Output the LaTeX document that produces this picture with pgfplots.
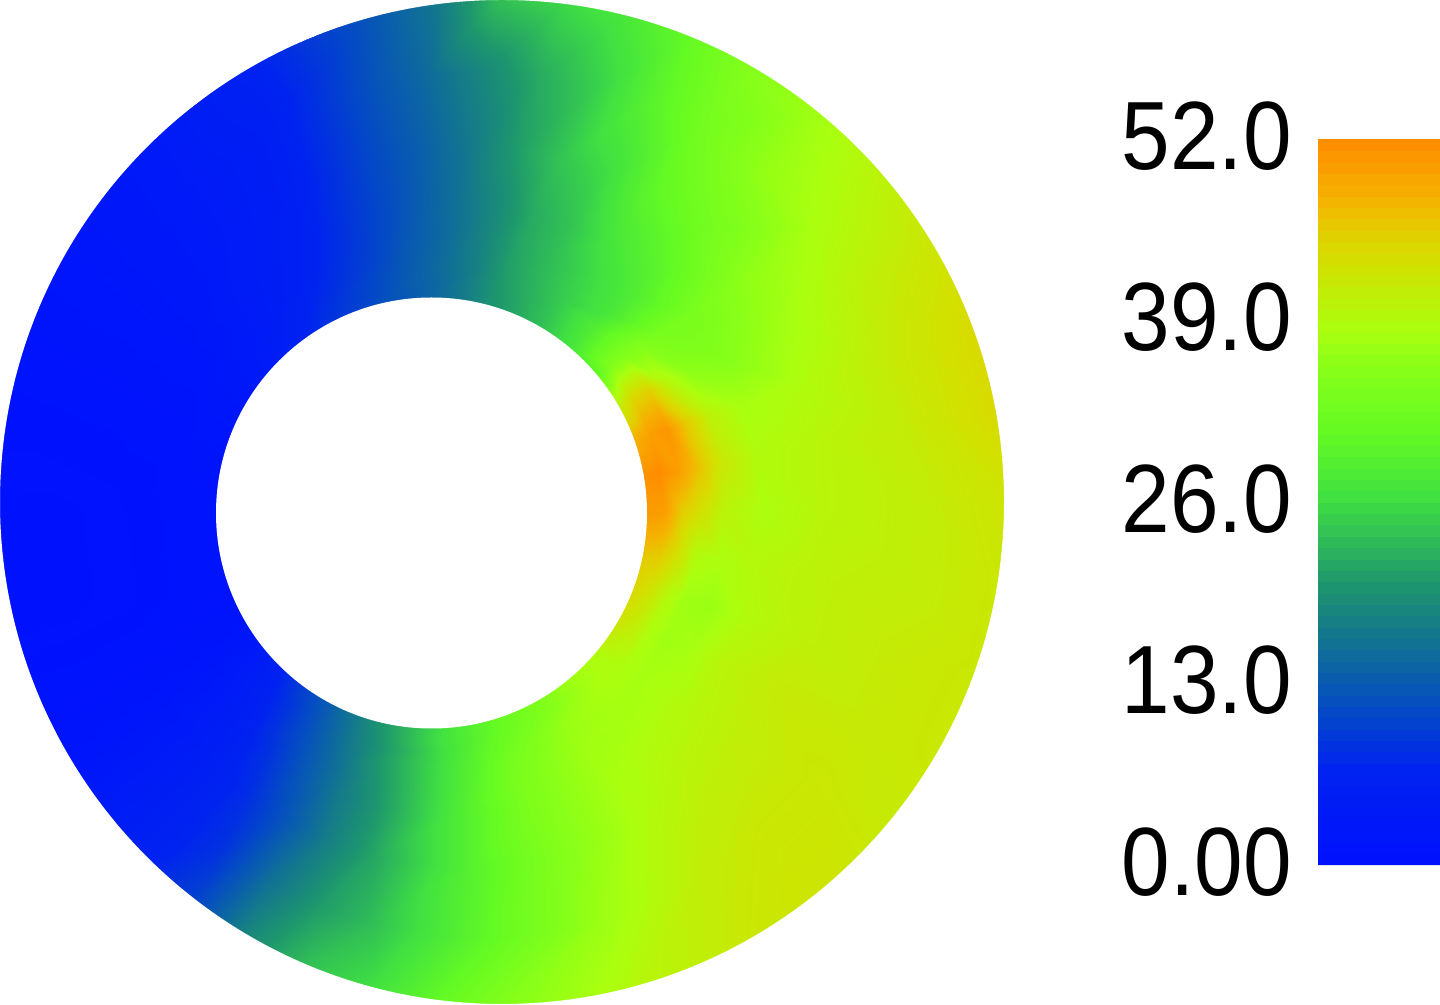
\documentclass[border=0pt]{standalone}
\usepackage{fontspec}
\setmainfont{Liberation Sans}
\usepackage{pgfplots}
\pgfplotsset{compat=1.18}
\newcommand{\lbl}[1]{\scalebox{0.90}[1]{\fontsize{97}{97}\selectfont #1}}
\begin{document}
\begin{tikzpicture}[x=1pt,y=1pt]
\useasboundingbox (0,0) rectangle (1440,1004);
\begin{axis}[
  at={(0,0)},anchor=south west,
  scale only axis,width=1004pt,height=1004pt,
  xmin=0,xmax=1004,ymin=0,ymax=1004,
  hide axis,
  point meta min=0,point meta max=52,
  colormap={fem}{rgb255(0)=(0,16,255) rgb255(70)=(0,35,240) rgb255(118)=(5,80,190)
    rgb255(166)=(20,120,140) rgb255(202)=(30,150,110) rgb255(264)=(65,225,65)
    rgb255(310)=(100,250,35) rgb255(355)=(135,255,25) rgb255(383)=(170,255,15)
    rgb255(430)=(210,225,0) rgb255(455)=(228,205,0) rgb255(478)=(245,178,0) rgb255(520)=(255,140,0)},
  colorbar sampled,
  colorbar style={
    samples=65,
    scale only axis,
    at={(1.31275,0.13845)},anchor=south west,
    width=122pt,height=726pt,
    axis line style={draw=none},
    tick style={draw=none},
    major tick length=0pt,
    yticklabel pos=left,
    ytick={0,13,26,39,52},
    yticklabels={\lbl{0.00},\lbl{13.0},\lbl{26.0},\lbl{39.0},\lbl{52.0}},
    yticklabel style={inner sep=0pt,xshift=-26pt,yshift=3pt,anchor=east},
  },
]
\addplot[surf,shader=interp,mesh/rows=34,mesh/cols=9,point meta=explicit]
table[row sep=\\,
  x expr={(1-\thisrow{s})*(431.5+214*cos(\thisrow{t}))+\thisrow{s}*(502+507*cos(\thisrow{t}))},
  y expr={(1-\thisrow{s})*(491+214*sin(\thisrow{t}))+\thisrow{s}*(502+507*sin(\thisrow{t}))},
  meta=v]{
t s v\\
-180 0 1\\ -180 .05 1\\ -180 .1 1\\ -180 .15 1\\ -180 .22 1\\ -180 .32 .8\\ -180 .5 .6\\ -180 .75 .5\\ -180 1 .5\\
-165 0 1\\ -165 .05 1\\ -165 .1 1\\ -165 .15 1\\ -165 .22 1\\ -165 .32 .8\\ -165 .5 .6\\ -165 .75 .5\\ -165 1 .5\\
-150 0 1.5\\ -150 .05 1.5\\ -150 .1 1.5\\ -150 .15 1.5\\ -150 .22 1.5\\ -150 .32 1.5\\ -150 .5 1.5\\ -150 .75 1.5\\ -150 1 1.5\\
-135 0 6\\ -135 .05 6\\ -135 .1 6\\ -135 .15 6\\ -135 .22 5.5\\ -135 .32 5.5\\ -135 .5 5.5\\ -135 .75 6\\ -135 1 6.5\\
-127.5 0 9.5\\ -127.5 .05 9.5\\ -127.5 .1 9\\ -127.5 .15 9\\ -127.5 .22 9\\ -127.5 .32 8.5\\ -127.5 .5 8\\ -127.5 .75 8.5\\ -127.5 1 10.5\\
-120 0 12.5\\ -120 .05 12.5\\ -120 .1 12.5\\ -120 .15 12.5\\ -120 .22 12.5\\ -120 .32 12.5\\ -120 .5 12.5\\ -120 .75 15.5\\ -120 1 19\\
-112.5 0 16\\ -112.5 .05 16\\ -112.5 .1 16\\ -112.5 .15 16\\ -112.5 .22 16\\ -112.5 .32 16.5\\ -112.5 .5 17.5\\ -112.5 .75 20.5\\ -112.5 1 24\\
-105 0 19.5\\ -105 .05 19.5\\ -105 .1 19.5\\ -105 .15 20\\ -105 .22 20\\ -105 .32 20\\ -105 .5 21.5\\ -105 .75 23.5\\ -105 1 26.5\\
-90 0 25.5\\ -90 .05 26\\ -90 .1 26\\ -90 .15 26.5\\ -90 .22 27\\ -90 .32 28\\ -90 .5 29\\ -90 .75 30.5\\ -90 1 35\\
-75 0 30.5\\ -75 .05 31\\ -75 .1 32\\ -75 .15 33\\ -75 .22 34\\ -75 .32 34.5\\ -75 .5 35\\ -75 .75 37\\ -75 1 39.5\\
-60 0 34.5\\ -60 .05 35\\ -60 .1 36.5\\ -60 .15 37\\ -60 .22 37.5\\ -60 .32 38\\ -60 .5 39\\ -60 .75 41\\ -60 1 42\\
-50 0 37.5\\ -50 .05 37.5\\ -50 .1 38\\ -50 .15 38\\ -50 .22 38\\ -50 .32 39\\ -50 .5 40.5\\ -50 .75 42\\ -50 1 42.5\\
-40 0 39\\ -40 .05 39\\ -40 .1 38.5\\ -40 .15 38\\ -40 .22 38.5\\ -40 .32 39.5\\ -40 .5 41\\ -40 .75 42\\ -40 1 41.5\\
-30 0 42.5\\ -30 .05 41\\ -30 .1 38.5\\ -30 .15 37.5\\ -30 .22 38\\ -30 .32 40\\ -30 .5 41.5\\ -30 .75 41.5\\ -30 1 42\\
-20 0 44.5\\ -20 .05 42.5\\ -20 .1 39.5\\ -20 .15 37.5\\ -20 .22 37\\ -20 .32 39\\ -20 .5 40.5\\ -20 .75 41.5\\ -20 1 42\\
-10 0 46.5\\ -10 .05 46\\ -10 .1 43\\ -10 .15 39\\ -10 .22 38.5\\ -10 .32 39.5\\ -10 .5 40.5\\ -10 .75 41\\ -10 1 42\\
0 0 50.5\\ 0 .05 50\\ 0 .1 45.5\\ 0 .15 43\\ 0 .22 40\\ 0 .32 38.5\\ 0 .5 40\\ 0 .75 41\\ 0 1 42.5\\
10 0 51.5\\ 10 .05 52\\ 10 .1 50\\ 10 .15 47\\ 10 .22 42\\ 10 .32 39\\ 10 .5 40\\ 10 .75 41.5\\ 10 1 44\\
20 0 48\\ 20 .05 50\\ 20 .1 51\\ 20 .15 46\\ 20 .22 40.5\\ 20 .32 38\\ 20 .5 39\\ 20 .75 41.5\\ 20 1 44\\
30 0 40.5\\ 30 .05 44.5\\ 30 .1 45\\ 30 .15 40\\ 30 .22 36\\ 30 .32 35\\ 30 .5 37.5\\ 30 .75 40.5\\ 30 1 42.5\\
40 0 30\\ 40 .05 34.5\\ 40 .1 35\\ 40 .15 35\\ 40 .22 33.5\\ 40 .32 33.5\\ 40 .5 36\\ 40 .75 38.5\\ 40 1 40.5\\
50 0 27\\ 50 .05 28\\ 50 .1 28.5\\ 50 .15 27.5\\ 50 .22 28\\ 50 .32 29.5\\ 50 .5 32.5\\ 50 .75 36.5\\ 50 1 38\\
60 0 23.5\\ 60 .05 24\\ 60 .1 24.5\\ 60 .15 25\\ 60 .22 25.5\\ 60 .32 27\\ 60 .5 30\\ 60 .75 33\\ 60 1 35.5\\
67.5 0 21.5\\ 67.5 .05 22\\ 67.5 .1 22.5\\ 67.5 .15 23\\ 67.5 .22 23.5\\ 67.5 .32 24\\ 67.5 .5 26\\ 67.5 .75 29.5\\ 67.5 1 31.5\\
75 0 19.5\\ 75 .05 20\\ 75 .1 20.5\\ 75 .15 21\\ 75 .22 21.5\\ 75 .32 22\\ 75 .5 24\\ 75 .75 25\\ 75 1 28\\
82.5 0 16.5\\ 82.5 .05 17\\ 82.5 .1 17\\ 82.5 .15 17.5\\ 82.5 .22 18\\ 82.5 .32 18.5\\ 82.5 .5 20.5\\ 82.5 .75 22\\ 82.5 1 26\\
90 0 14.5\\ 90 .05 14.5\\ 90 .1 15\\ 90 .15 15\\ 90 .22 15\\ 90 .32 15.5\\ 90 .5 16.5\\ 90 .75 18.5\\ 90 1 24\\
97.5 0 12.5\\ 97.5 .05 13\\ 97.5 .1 13\\ 97.5 .15 13\\ 97.5 .22 13\\ 97.5 .32 13\\ 97.5 .5 13.5\\ 97.5 .75 15\\ 97.5 1 16.5\\
105 0 11.5\\ 105 .05 11\\ 105 .1 11\\ 105 .15 10.5\\ 105 .22 10.5\\ 105 .32 10.5\\ 105 .5 11\\ 105 .75 12\\ 105 1 12.5\\
120 0 8.5\\ 120 .05 8\\ 120 .1 7.5\\ 120 .15 7\\ 120 .22 6.5\\ 120 .32 6\\ 120 .5 5.5\\ 120 .75 5.5\\ 120 1 6.5\\
135 0 5\\ 135 .05 4.5\\ 135 .1 4.5\\ 135 .15 4\\ 135 .22 4\\ 135 .32 4\\ 135 .5 3.5\\ 135 .75 3.5\\ 135 1 3.5\\
150 0 2.5\\ 150 .05 2.5\\ 150 .1 2.5\\ 150 .15 2.5\\ 150 .22 2\\ 150 .32 2\\ 150 .5 2\\ 150 .75 2\\ 150 1 2\\
165 0 1.5\\ 165 .05 1.5\\ 165 .1 1.5\\ 165 .15 1.5\\ 165 .22 1\\ 165 .32 1\\ 165 .5 1\\ 165 .75 1\\ 165 1 1\\
180 0 1\\ 180 .05 1\\ 180 .1 1\\ 180 .15 1\\ 180 .22 1\\ 180 .32 .8\\ 180 .5 .6\\ 180 .75 .5\\ 180 1 .5\\
};
\end{axis}
\fill[white] (431.5,491) circle [radius=215.5];
\fill[white,even odd rule] (502,502) circle [radius=502] (502,502) circle [radius=530];
\end{tikzpicture}
\end{document}
